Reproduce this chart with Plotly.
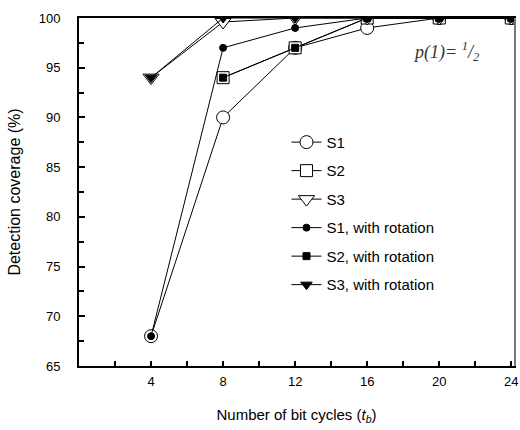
import plotly.graph_objects as go

x_s1 = [4, 8, 12, 16, 20, 24]
s1 = [68, 90, 97, 99, 100, 100]
x_s2 = [8, 12, 16, 20, 24]
s2 = [94, 97, 100, 100, 100]
x_s3 = [4, 8, 12, 16, 20, 24]
s3 = [94, 99.6, 100, 100, 100, 100]
x_s1r = [4, 8, 12, 16, 20, 24]
s1r = [68, 97, 99, 100, 100, 100]
x_s2r = [8, 12, 16, 20, 24]
s2r = [94, 97, 100, 100, 100]
x_s3r = [4, 8, 12, 16, 20, 24]
s3r = [94, 100, 100, 100, 100, 100]

x_ticks = [4, 8, 12, 16, 20, 24]
y_ticks = [65, 70, 75, 80, 85, 90, 95, 100]

fig = go.Figure()

def add(x, y, name, symbol, size, filled, grp):
    fig.add_trace(go.Scatter(
        x=x, y=y, name=name, mode="lines+markers", legendgroup=grp,
        line=dict(color="black", width=1),
        marker=dict(symbol=symbol, size=size,
                    color="black" if filled else "white",
                    line=dict(color="black", width=1)),
    ))

add(x_s1, s1, "S1", "circle", 13, False, "a")
add(x_s2, s2, "S2", "square", 12, False, "b")
add(x_s3, s3, "S3", "triangle-down", 14, False, "c")
add(x_s1r, s1r, "S1, with rotation", "circle", 7, True, "d")
add(x_s2r, s2r, "S2, with rotation", "square", 7, True, "e")
add(x_s3r, s3r, "S3, with rotation", "triangle-down", 10, True, "f")

# invisible trace to draw a gray right frame line
fig.add_trace(go.Scatter(x=[None], y=[None], yaxis="y2", showlegend=False))

fig.add_annotation(x=20.4, y=96.6, xref="x", yref="y", showarrow=False,
                   text="<i>p(1)= <sup>1</sup>/<sub>2</sub></i>",
                   font=dict(family="Liberation Serif", size=18, color="#333"))

font = dict(family="Liberation Sans, Arial", size=13, color="black")
lfont = dict(family="Liberation Sans, Arial", size=15, color="black")

fig.update_layout(
    width=520, height=430,
    margin=dict(l=79, r=6, t=18, b=64),
    paper_bgcolor="white", plot_bgcolor="white",
    font=font,
    showlegend=True,
    legend=dict(x=0.477, y=0.69, xanchor="left", yanchor="top",
                bgcolor="rgba(0,0,0,0)", font=lfont, tracegroupgap=6,
                itemsizing="trace"),
    xaxis=dict(range=[0, 24.15], tickvals=x_ticks, ticks="inside", ticklen=5,
               tickwidth=2, tickcolor="black", ticklabeloverflow="allow",
               minor=dict(tickvals=[2, 6, 10, 14, 18, 22], ticks="inside", ticklen=5,
                          tickwidth=2, tickcolor="black"),
               showline=True, linewidth=2, linecolor="black", mirror=True,
               showgrid=False, zeroline=False, automargin=False,
               ticklabelstandoff=2,
               title=dict(text="Number of bit cycles (<i>t<sub>b</sub></i>)",
                          font=dict(family="Liberation Sans, Arial", size=15, color="black"),
                          standoff=22)),
    yaxis=dict(range=[65, 100], tickvals=y_ticks, ticks="inside", ticklen=6,
               tickwidth=2, tickcolor="black",
               minor=dict(tickvals=[67.5, 72.5, 77.5, 82.5, 87.5, 92.5, 97.5],
                          ticks="inside", ticklen=5, tickwidth=2, tickcolor="black"),
               showline=True, linewidth=2, linecolor="black",
               showgrid=False, zeroline=False, automargin=False,
               ticklabelstandoff=14,
               title=dict(text="Detection coverage (%)",
                          font=dict(family="Liberation Sans, Arial", size=16, color="black"),
                          standoff=14)),
    yaxis2=dict(range=[65, 100], overlaying="y", side="right", showline=True,
                linewidth=2, linecolor="#777", showticklabels=False, ticks="",
                showgrid=False, zeroline=False),
)

fig.write_html("out.html")
